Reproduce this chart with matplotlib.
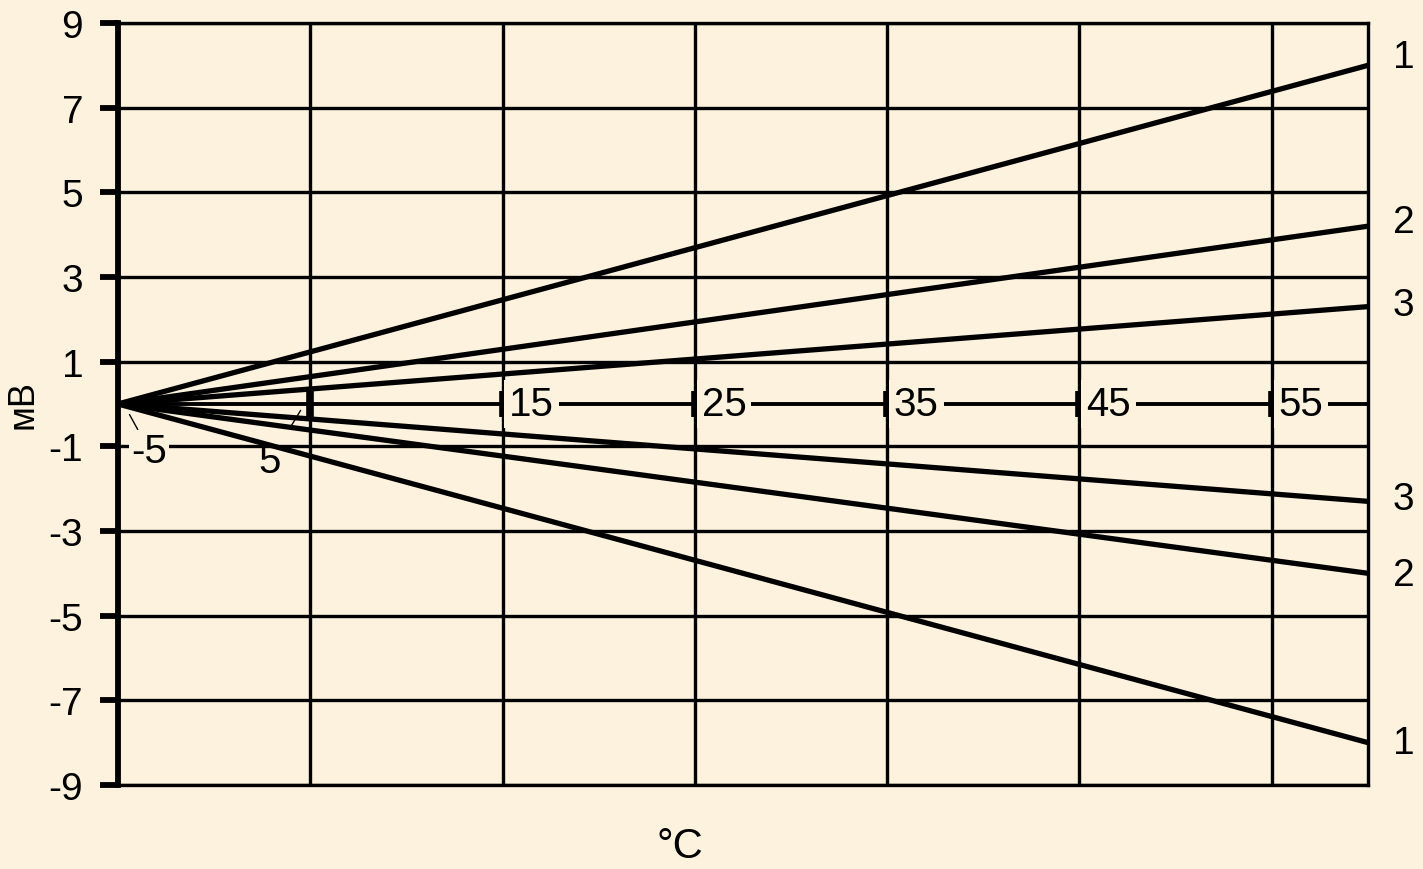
import matplotlib.pyplot as plt

plt.rcParams['font.family'] = ['Liberation Sans', 'DejaVu Sans']

# data: lines start at (-5, 0) and end at x = 60
x_start = -5
x_end = 60
line_names = ["1", "2", "3", "3", "2", "1"]
end_values = [8.0, 4.2, 2.3, -2.3, -4.0, -8.0]
label_offsets = [0.2, 0.1, 0.05, 0.05, -0.05, 0.0]
y_ticks = [-9, -7, -5, -3, -1, 1, 3, 5, 7, 9]
x_grid = [5, 15, 25, 35, 45, 55]
x_inline_labels = [15, 25, 35, 45, 55]

bg = '#FCF2DE'
fig = plt.figure(figsize=(14.23, 8.70), dpi=100, facecolor=bg)
ax = fig.add_axes([0.0829, 0.0966, 0.9613 - 0.0829, 0.9724 - 0.0966])
ax.set_facecolor(bg)
ax.set_xlim(x_start, x_end)
ax.set_ylim(-9, 9)

# grid
for yv in y_ticks:
    ax.axhline(yv, color='black', lw=2.4, zorder=1)
for xv in x_grid:
    ax.axvline(xv, color='black', lw=2.4, zorder=1)

for side in ['top', 'bottom', 'right']:
    ax.spines[side].set_linewidth(2.4)
ax.spines['left'].set_linewidth(4.2)

# fan of lines
for v in end_values:
    ax.plot([x_start, x_end], [0, v], color='black', lw=3.8, solid_capstyle='butt', zorder=3)

# labels on the right
for name, v, off in zip(line_names, end_values, label_offsets):
    ax.text(x_end + 1.3, v + off, name, fontsize=28,
            ha='left', va='center', clip_on=False)

# x axis drawn through y = 0
ax.plot([x_start, x_end], [0, 0], color='black', lw=2.8, zorder=2)
for xv in x_grid:
    ax.plot([xv, xv], [-0.3, 0.3], color='black', lw=5.5, solid_capstyle='butt', zorder=4)
for xv in x_inline_labels:
    ax.text(xv + 0.35, 0, str(xv), fontsize=29, ha='left', va='center', zorder=5,
            bbox=dict(boxstyle='square,pad=0.12', facecolor=bg, edgecolor='none'))

ax.annotate('-5', xy=(-4.4, -0.25), xytext=(-4.3, -1.1), fontsize=29,
            ha='left', va='center', zorder=5,
            bbox=dict(boxstyle='square,pad=0.05', facecolor=bg, edgecolor='none'),
            arrowprops=dict(arrowstyle='-', color='black', lw=1, shrinkA=0, shrinkB=0))
ax.annotate('5', xy=(4.5, -0.15), xytext=(2.9, -1.35), fontsize=29,
            ha='center', va='center', zorder=5,
            arrowprops=dict(arrowstyle='-', color='black', lw=1, shrinkA=9, shrinkB=0))

ax.set_xticks([])
ax.set_yticks(y_ticks)
ax.set_yticklabels([str(v) for v in y_ticks], fontsize=28)
ax.tick_params(axis='y', length=13, width=4.2, pad=12)

ax.set_ylabel('мВ', fontsize=26, labelpad=6)
fig.text(0.478, 0.027, '°C', fontsize=30, ha='center', va='center')

fig.savefig('out.png', dpi=100, facecolor=bg)
